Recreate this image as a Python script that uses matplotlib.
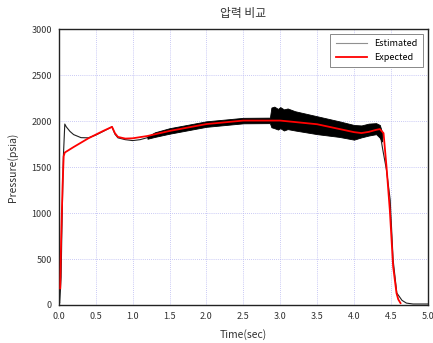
import matplotlib
matplotlib.use("Agg")
import matplotlib.pyplot as plt
import numpy as np

plt.rcParams['font.family'] = ['Noto Sans CJK KR', 'DejaVu Sans']

# ── 데이터 ─────────────────────────────────────────────────────────
# Estimated: 중심선
est_t = [0.0, 0.01, 0.02, 0.03, 0.04, 0.06, 0.08, 0.1, 0.15, 0.2, 0.3, 0.4,
         0.5, 0.6, 0.7, 0.72, 0.76, 0.8, 0.9, 1.0, 1.1, 1.2, 1.5, 2.0, 2.5,
         2.85, 3.0, 3.5, 4.0, 4.1, 4.2, 4.3, 4.35, 4.39, 4.44, 4.49, 4.53,
         4.58, 4.65, 4.71, 4.8, 5.0]
est_p = [60, 20, 150, 300, 780, 1600, 1970, 1940, 1890, 1855, 1822, 1820,
         1850, 1890, 1932, 1940, 1860, 1820, 1800, 1790, 1800, 1822, 1893,
         1970, 2008, 2010, 2030, 1955, 1880, 1890, 1910, 1925, 1880, 1690,
         1470, 1144, 490, 130, 50, 20, 10, 10]

# Estimated: 진동 구간 (상한/하한)
band_t = [1.2, 1.3, 1.5, 2.0, 2.5, 2.86, 2.88, 2.92, 2.97, 3.0, 3.05, 3.1,
          3.2, 3.5, 3.8, 4.0, 4.1, 4.2, 4.3, 4.35, 4.38]
band_hi = [1835, 1880, 1925, 2000, 2038, 2040, 2150, 2160, 2135, 2155, 2130,
           2140, 2110, 2055, 2000, 1960, 1955, 1975, 1980, 1960, 1880]
band_lo = [1810, 1830, 1865, 1940, 1978, 1980, 1935, 1925, 1910, 1925, 1900,
           1915, 1900, 1860, 1830, 1800, 1825, 1845, 1860, 1820, 1780]

# Expected
exp_t = [0.018, 0.03, 0.05, 0.065, 0.08, 0.2, 0.4, 0.5, 0.6, 0.7, 0.72,
         0.76, 0.8, 0.9, 1.0, 1.2, 1.5, 2.0, 2.5, 3.0, 3.5, 4.0, 4.1, 4.2,
         4.3, 4.35, 4.4, 4.44, 4.485, 4.53, 4.576, 4.6, 4.63]
exp_p = [180, 700, 1300, 1620, 1660, 1720, 1815, 1855, 1895, 1932, 1940,
         1870, 1830, 1812, 1815, 1840, 1895, 1970, 2008, 2008, 1968, 1882,
         1872, 1885, 1907, 1915, 1871, 1507, 1035, 418, 127, 60, 20]

x_ticks = [0.0, 0.5, 1.0, 1.5, 2.0, 2.5, 3.0, 3.5, 4.0, 4.5, 5.0]
y_ticks = [0, 500, 1000, 1500, 2000, 2500, 3000]

# ── 그리기 ───────────────────────────────────────────────────────────────
fig = plt.figure(figsize=(4.33, 3.43), dpi=100)
ax = fig.add_axes([0.136, 0.111, 0.852, 0.803])

ax.plot(est_t, est_p, color="#202020", lw=0.8, label="Estimated", zorder=3)
ax.fill_between(band_t, band_lo, band_hi, color="black", lw=0.6,
                edgecolor="black", zorder=3)
ax.plot(exp_t, exp_p, color="#ff0000", lw=1.3, label="Expected", zorder=4)

ax.set_xlim(0, 5)
ax.set_ylim(0, 3000)
ax.set_xticks(x_ticks)
ax.set_yticks(y_ticks)
ax.set_xticklabels([f"{v:.1f}" for v in x_ticks])
ax.tick_params(length=0, labelsize=6.5, colors="#333333", pad=5)
ax.grid(True, color="#b8b8f2", linestyle=(0, (1, 1.5)), linewidth=0.6)
ax.set_axisbelow(True)
for sp in ax.spines.values():
    sp.set_color("#222222")
    sp.set_linewidth(1.0)

ax.set_xlabel("Time(sec)", fontsize=7.5, color="#333333", labelpad=6)
ax.set_ylabel("Pressure(psia)", fontsize=7.5, color="#333333", labelpad=10)
ax.set_title("압력 비교", fontsize=8.5, color="#333333", pad=9)

leg = ax.legend(loc="upper right", fontsize=6.5, fancybox=False,
                edgecolor="#888888", framealpha=1, handlelength=3.5,
                borderpad=0.6, labelspacing=0.5)
leg.get_frame().set_linewidth(0.7)
leg.get_lines()[0].set_color("#909090")

fig.savefig("out.png", dpi=100)
